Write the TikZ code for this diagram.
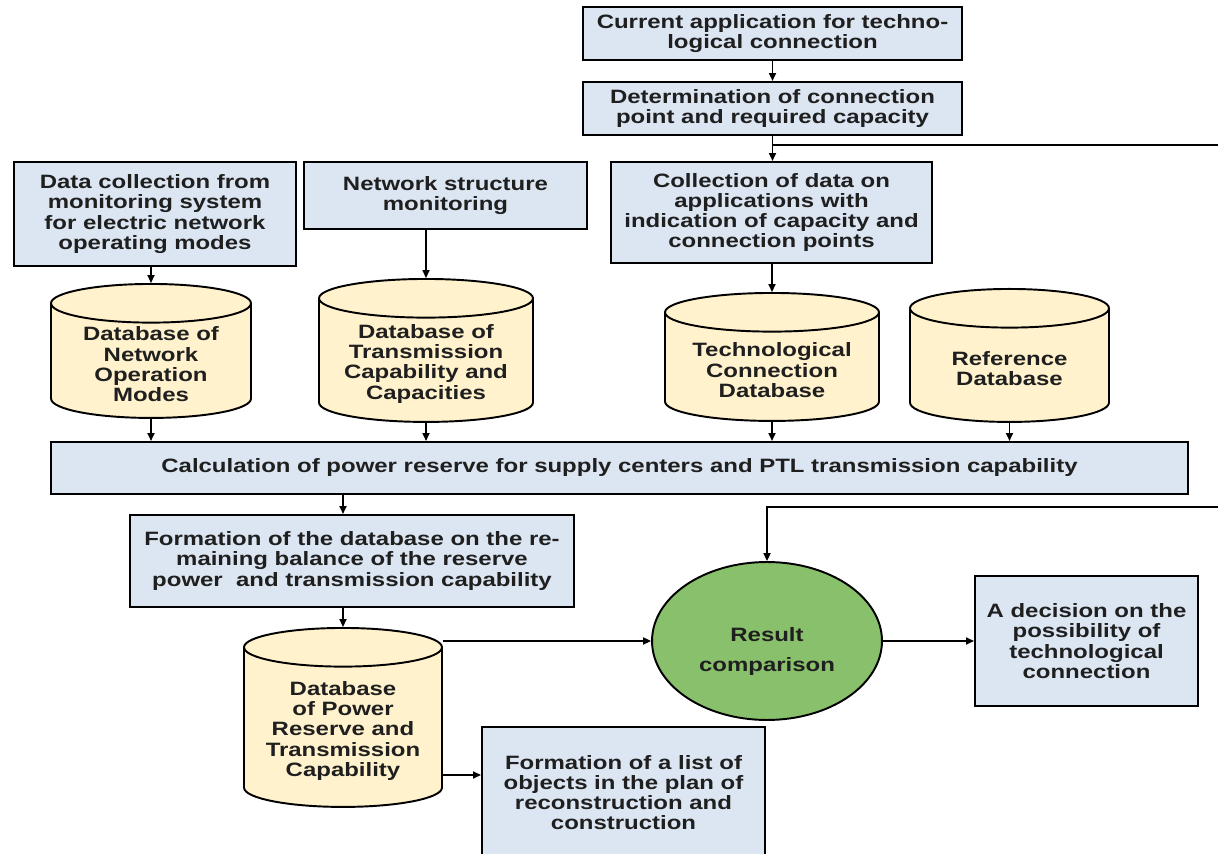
\documentclass[tikz,border=0pt]{standalone}
\usepackage{fontspec}
\setmainfont{Liberation Sans}[FakeStretch=1.24]
\usetikzlibrary{shapes.geometric,arrows.meta}
\definecolor{boxblue}{RGB}{220,230,242}
\definecolor{dbyellow}{RGB}{255,242,204}
\definecolor{cmpgreen}{RGB}{137,192,107}

\begin{document}
\begin{tikzpicture}[x=0.02cm,y=-0.02cm,
	every node/.style={font=\fontsize{11}{11.5}\selectfont\bfseries,text=black!88,align=center},
	blk/.style={draw,fill=boxblue,line width=1.2pt,inner sep=2pt},
	db/.style={cylinder,shape border rotate=90,aspect=3.3,draw,fill=dbyellow,line width=1.1pt,anchor=north},
	arr/.style={line width=0.9pt,-{Triangle[length=4.5pt,width=4pt]}},
	ln/.style={line width=0.9pt}]
		\path[use as bounding box] (0,0) rectangle (1218,854);
		\clip (0,0) rectangle (1218,854);

		% top chain
		\node[blk,minimum width=7.58cm,minimum height=1.06cm] (cur) at (772.5,33.5) {Current application for techno-\\logical connection};
		\node[blk,minimum width=7.58cm,minimum height=1.06cm] (det) at (772.5,108.5) {Determination of connection\\point and required capacity};
		\coordinate (jt) at (772.5,145);
		\coordinate (edgeA) at (1230,145);

		\node[blk,minimum width=5.64cm,minimum height=2.08cm] (mon) at (155,214) {Data collection from\\monitoring system\\for electric network\\operating modes};
		\node[blk,minimum width=5.66cm,minimum height=1.34cm] (struct) at (445.5,195.5) {Network structure\\monitoring};
		\node[blk,minimum width=6.42cm,minimum height=2.02cm] (coll) at (771.5,212.5) {Collection of data on\\applications with\\indication of capacity and\\connection points};

		% databases (placed by their top)
		\node[db,minimum width=4cm,minimum height=2.68cm,label={center:Database of\\Network\\Operation\\Modes}] (dbA) at (151,283) {};
		\node[db,minimum width=4.28cm,minimum height=2.86cm,label={center:Database of\\Transmission\\Capability and\\Capacities}] (dbB) at (426,278) {};
		\node[db,minimum width=4.28cm,minimum height=2.56cm,label={center:Technological\\Connection\\Database}] (dbC) at (772,292) {};
		\node[db,minimum width=3.98cm,minimum height=2.66cm,label={center:Reference\\Database}] (dbD) at (1009.5,288) {};

		\node[blk,minimum width=22.74cm,minimum height=1.04cm] (calc) at (619.5,468) {Calculation of power reserve for supply centers and PTL transmission capability};
		\node[blk,minimum width=8.88cm,minimum height=1.84cm] (form) at (352,561) {Formation of the database on the re-\\maining balance of the reserve\\power\ \ and transmission capability};
		\node[db,minimum width=3.96cm,minimum height=3.58cm,label={center:Database\\of Power\\Reserve and\\Transmission\\Capability}] (dbE) at (343,627) {};

		\node[ellipse,draw,fill=cmpgreen,line width=1.1pt,minimum width=4.6cm,minimum height=3.16cm,label={[yshift=-6pt]center:Result\\[6pt]comparison}] (cmp) at (767,641) {};
		\coordinate (edgeB) at (1230,507);
		\node[blk,minimum width=4.46cm,minimum height=2.6cm] (dec) at (1086.5,641) {A decision on the\\possibility of\\technological\\connection};
		\node[blk,minimum width=5.66cm,minimum height=2.62cm] (list) at (623.5,792.5) {Formation of a list of\\objects in the plan of\\reconstruction and\\construction};
		\coordinate (lsty) at (0,775);

		% connectors
		\draw[arr] (cur) -- (det);
		\draw[arr] (det.south) -- (det.south |- coll.north);
		\draw[ln] (jt) -- (edgeA);
		\draw[arr] (dbA.north |- mon.south) -- (dbA.north);
		\draw[arr] (struct.south -| dbB.north) -- (dbB.north);
		\draw[arr] (coll.south -| dbC.north) -- (dbC.north);
		\draw[arr] (dbA.south) -- (dbA.south |- calc.north);
		\draw[arr] (dbB.south) -- (dbB.south |- calc.north);
		\draw[arr] (dbC.south) -- (dbC.south |- calc.north);
		\draw[arr] (dbD.south) -- (dbD.south |- calc.north);
		\draw[arr] (dbE.north |- calc.south) -- (dbE.north |- form.north);
		\draw[arr] (dbE.north |- form.south) -- (dbE.north);
		\draw[arr] (dbE.east |- cmp.west) -- (cmp.west);
		\draw[arr] (edgeB) -| (cmp.north);
		\draw[arr] (cmp.east) -- (dec.west);
		\draw[arr] (dbE.east |- lsty) -- (list.west |- lsty);
\end{tikzpicture}
\end{document}
